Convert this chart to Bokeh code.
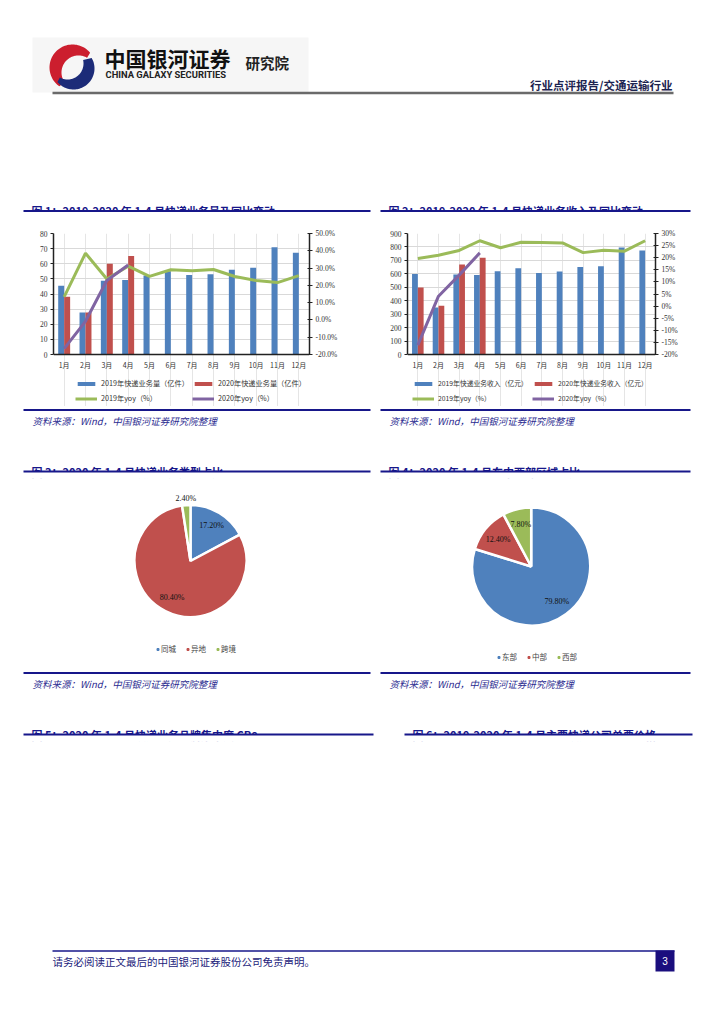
import numpy as np
from bokeh.plotting import figure
from bokeh.models import (Range1d, FactorRange, LinearAxis, FixedTicker, PrintfTickFormatter,
                          Legend, LegendItem, ColumnDataSource, Span)
from bokeh.transform import dodge
from bokeh.layouts import column, row
from bokeh.embed import file_html
from bokeh.resources import INLINE
from bokeh.core.properties import value

# ---------------- data ----------------
months = ["1月", "2月", "3月", "4月", "5月", "6月", "7月", "8月", "9月", "10月", "11月", "12月"]

vol_2019 = [45.5, 27.7, 48.7, 49.3, 52.2, 55.0, 52.6, 53.0, 56.0, 57.4, 70.9, 67.2]
vol_2020 = [38.2, 27.7, 60.0, 65.2]
vol_yoy_2019 = [13.3, 38.6, 23.7, 31.1, 25.2, 29.0, 28.5, 29.2, 25.1, 22.8, 21.6, 25.6]
vol_yoy_2020 = [-16.6, -0.8, 22.8, 31.8]
vol_labels = ["2019年快递业务量（亿件）", "2020年快递业务量（亿件）", "2019年yoy（%）", "2020年yoy（%）"]

rev_2019 = [598, 350, 595, 591, 620, 642, 607, 617, 650, 657, 796, 774]
rev_2020 = [498, 362, 669, 719]
rev_yoy_2019 = [19.7, 21.0, 23.0, 27.0, 24.1, 26.4, 26.3, 26.1, 22.1, 23.1, 22.7, 27.0]
rev_yoy_2020 = [-16.1, 4.1, 12.8, 22.0]
rev_labels = ["2019年快递业务收入（亿元）", "2020年快递业务收入（亿元）", "2019年yoy（%）", "2020年yoy（%）"]

type_labels = ["同城", "异地", "跨境"]
type_share = [17.2, 80.4, 2.4]
region_labels = ["东部", "中部", "西部"]
region_share = [79.8, 12.4, 7.8]

# ---------------- style ----------------
BLUE, RED, GREEN, PURPLE = "#4F81BD", "#C0504D", "#9BBB59", "#8064A2"
NAVY = "#17178A"
CJK = "Noto Sans CJK SC"
SERIF = "Liberation Serif"

PLOT_PX = 121      # height of the value area in px
BELOW_PX = 52      # room under the zero line (month labels + legend)


def item_legend(p, label, renderer, x, y, size):
    leg = Legend(items=[LegendItem(label=label, renderers=[renderer])],
                 orientation="horizontal", location=(x, y),
                 glyph_width=22, glyph_height=5, label_height=11, label_standoff=4,
                 spacing=0, padding=0, margin=0,
                 label_text_font=CJK, label_text_font_size=size, label_text_color="#333333",
                 border_line_color=None, background_fill_alpha=0)
    p.add_layout(leg)


def combo_chart(width, left_border, right_border, bars19, bars20, yoy19, yoy20,
                y_max, y_step, pct_min, pct_max, pct_step, pct_fmt, labels, leg_x, leg_size):
    below = BELOW_PX / PLOT_PX
    p = figure(width=width, height=182, x_range=FactorRange(*months),
               y_range=Range1d(-y_max * below, y_max), x_axis_location=None,
               output_backend="svg", toolbar_location=None,
               min_border_left=left_border, min_border_right=right_border,
               min_border_top=9, min_border_bottom=0)
    p.outline_line_color = None
    yt = FixedTicker(ticks=list(range(0, y_max + 1, y_step)))
    p.yaxis.ticker = yt
    p.ygrid.ticker = yt
    p.ygrid.grid_line_color = "#d9d9d9"
    p.ygrid.grid_line_width = 1

    s19 = ColumnDataSource(dict(m=months, v=bars19))
    s20 = ColumnDataSource(dict(m=months[:len(bars20)], v=bars20))
    r19 = p.vbar(x=dodge("m", -0.14, range=p.x_range), top="v", width=0.28, source=s19,
                 fill_color=BLUE, line_color=None)
    r20 = p.vbar(x=dodge("m", 0.14, range=p.x_range), top="v", width=0.28, source=s20,
                 fill_color=RED, line_color=None)
    span = pct_max - pct_min
    p.extra_y_ranges = {"pct": Range1d(pct_min - span * below, pct_max)}
    l19 = p.line(months, yoy19, y_range_name="pct", line_color=GREEN, line_width=3)
    l20 = p.line(months[:len(yoy20)], yoy20, y_range_name="pct", line_color=PURPLE, line_width=3)

    # category axis line and month labels
    p.add_layout(Span(location=0, dimension="width", line_color="#222222", line_width=1.5))
    p.text(x=months, y=[-y_max * 10 / PLOT_PX] * len(months), text=months,
           text_align="center", text_baseline="middle", text_font=value(CJK),
           text_font_size=value("7px"), text_color="#333333")

    right = LinearAxis(y_range_name="pct",
                       ticker=FixedTicker(ticks=list(range(pct_min, pct_max + 1, pct_step))),
                       formatter=PrintfTickFormatter(format=pct_fmt))
    p.add_layout(right, "right")
    for ax in p.yaxis:
        ax.axis_line_color = "#222222"
        ax.axis_line_width = 1.5
        ax.major_tick_line_color = "#222222"
        ax.major_tick_out = 3
        ax.major_tick_in = 0
        ax.minor_tick_line_color = None
        ax.major_label_text_font = SERIF
        ax.major_label_text_font_size = "7.5px"
        ax.major_label_text_color = "#333333"
        ax.major_label_standoff = 3
    p.yaxis[0].bounds = (0, y_max)
    right.bounds = (pct_min, pct_max)
    right.major_tick_in = 2

    # legend rows under the month labels (offsets from frame bottom-left, px)
    item_legend(p, labels[0], r19, leg_x[0], 17.5, leg_size)
    item_legend(p, labels[1], r20, leg_x[1], 17.5, leg_size)
    item_legend(p, labels[2], l19, leg_x[0], 2.5, leg_size)
    item_legend(p, labels[3], l20, leg_x[1], 2.5, leg_size)
    return p


def pie_chart(width, xr, yr, radius, labels, shares, legend_xy):
    p = figure(width=width, height=182, x_range=Range1d(*xr), y_range=Range1d(*yr),
               x_axis_type=None, y_axis_type=None, output_backend="svg",
               toolbar_location=None, min_border=0)
    p.outline_line_color = None
    colors = [BLUE, RED, GREEN]
    fr = np.array(shares) / np.sum(shares)
    cum = np.cumsum(fr)
    start = np.pi / 2 - (cum - fr) * 2 * np.pi
    end = np.pi / 2 - cum * 2 * np.pi
    src = ColumnDataSource(dict(start=start, end=end, color=colors))
    p.wedge(x=0, y=0, radius=radius, start_angle="start", end_angle="end", direction="clock",
            fill_color="color", line_color="white", line_width=2.5, source=src)
    mid = (start + end) / 2
    rr = np.where(fr < 0.05, radius * 1.12, radius * 0.73)
    p.text(x=rr * np.cos(mid), y=rr * np.sin(mid), text=[f"{s:.2f}%" for s in shares],
           text_align="center", text_baseline="middle", text_font=value(SERIF),
           text_font_size=value("8px"), text_color="#111111")
    lsrc = ColumnDataSource(dict(x=[np.nan] * 3, y=[np.nan] * 3, color=colors))
    lr = p.scatter(x="x", y="y", marker="square", size=3, color="color", source=lsrc)
    leg = Legend(items=[LegendItem(label=l, renderers=[lr], index=i) for i, l in enumerate(labels)],
                 orientation="horizontal", location=legend_xy,
                 glyph_width=5, glyph_height=6, label_height=10, label_standoff=1,
                 spacing=4, padding=0, margin=0,
                 label_text_font=CJK, label_text_font_size="7.5px", label_text_color="#444444",
                 border_line_color=None, background_fill_alpha=0)
    p.add_layout(leg)
    return p


def band(height, top):
    p = figure(width=716, height=height, x_range=Range1d(0, 716), y_range=Range1d(top + height, top),
               x_axis_type=None, y_axis_type=None, output_backend="svg",
               toolbar_location=None, min_border=0)
    p.outline_line_color = None
    return p


def txt(p, x, y, s, size, color="#000000", font=CJK, style="normal", align="left"):
    p.text(x=[x], y=[y], text=[s], text_font=value(font), text_font_size=value(size),
           text_color=color, text_font_style=style, text_align=align, text_baseline="middle")


def cut_title(p, x0, x1, y, s):
    txt(p, x0 + 8, y, s, "11px", NAVY, style="bold")
    p.quad(left=[x0 - 2], right=[x1 + 2], top=[y + 0.5], bottom=[y + 7], fill_color="white", line_color=None)
    p.segment(x0=[x0], x1=[x1], y0=[y], y1=[y], line_color=NAVY, line_width=2)


def source_line(p, x0, x1, y):
    p.segment(x0=[x0], x1=[x1], y0=[y], y1=[y], line_color=NAVY, line_width=2)
    txt(p, x0 + 9, y + 11, "资料来源：Wind，中国银河证券研究院整理", "9.5px", "#2B2B90", style="italic")


def crescent(p, c_out, r_out, c_in, r_in, a0, a1, color):
    a = np.radians(np.linspace(a0, a1, 60))
    xo = c_out[0] + r_out * np.cos(a)
    yo = c_out[1] - r_out * np.sin(a)
    ang_o0 = np.arctan2(-(yo[0] - c_in[1]), xo[0] - c_in[0])
    ang_o1 = np.arctan2(-(yo[-1] - c_in[1]), xo[-1] - c_in[0])
    if ang_o0 < ang_o1 and a1 < a0:
        ang_o0 += 2 * np.pi
    if ang_o1 < ang_o0 and a1 > a0:
        ang_o1 += 2 * np.pi
    b = np.linspace(ang_o1, ang_o0, 60)
    xi = c_in[0] + r_in * np.cos(b)
    yi = c_in[1] - r_in * np.sin(b)
    p.patch(np.concatenate([xo, xi]), np.concatenate([yo, yi]), fill_color=color, line_color=None)


# ---------------- band A: header ----------------
A = band(224, 0)
A.quad(left=[32], right=[308], top=[37], bottom=[92], fill_color="#f6f6f6", line_color=None)
crescent(A, (72, 67), 23, (78, 72), 17, 40, 235, "#CC1E2E")
crescent(A, (73, 68), 21, (67, 63), 16, -140, 30, "#1C2B78")
txt(A, 104, 57, "中国银河证券", "21px", "#111111", style="bold")
txt(A, 105, 74, "CHINA GALAXY SECURITIES", "9.4px", "#222222", font="Roboto", style="bold")
txt(A, 245, 62, "研究院", "14.5px", "#222222", style="bold")
txt(A, 672, 84, "行业点评报告/交通运输行业", "11.5px", "#1c2450", style="bold", align="right")
A.segment(x0=[52], x1=[673], y0=[92.5], y1=[92.5], line_color="#6a6a6a", line_width=2.5)
cut_title(A, 23, 370, 210.5, "图 1：2019-2020 年 1-4 月快递业务量及同比变动")
cut_title(A, 380, 690, 210.5, "图 2：2019-2020 年 1-4 月快递业务收入及同比变动")

# ---------------- charts ----------------
c1 = combo_chart(380, 53, 71, vol_2019, vol_2020, vol_yoy_2019, vol_yoy_2020,
                 80, 10, -20, 50, 10, "%.1f%%", vol_labels, (22, 139), "7.2px")
c2 = combo_chart(336, 27, 61, rev_2019, rev_2020, rev_yoy_2019, rev_yoy_2020,
                 900, 100, -20, 30, 5, "%d%%", rev_labels, (5, 125), "6.8px")

# ---------------- band C ----------------
C = band(80, 406)
source_line(C, 23, 370, 409.5)
source_line(C, 380, 690, 409.5)
cut_title(C, 23, 370, 471, "图 3：2020 年 1-4 月快递业务类型占比")
cut_title(C, 380, 690, 471, "图 4：2020 年 1-4 月东中西部区域占比")

# ---------------- pies ----------------
p1 = pie_chart(380, (-190, 190), (-107.5, 74.5), 56, type_labels, type_share, (155, 14))
p2 = pie_chart(336, (-150.7, 185.3), (-102, 80), 59, region_labels, region_share, (116, 6))

# ---------------- band E ----------------
E = band(348, 668)
source_line(E, 23, 370, 672.5)
source_line(E, 380, 690, 672.5)
cut_title(E, 23, 373, 734, "图 5：2020 年 1-4 月快递业务品牌集中度 CR8")
cut_title(E, 404, 692, 734, "图 6：2019-2020 年 1-4 月主要快递公司单票价格")
E.segment(x0=[52], x1=[674], y0=[950.5], y1=[950.5], line_color=NAVY, line_width=1.5)
txt(E, 52, 961, "请务必阅读正文最后的中国银河证券股份公司免责声明。", "10.5px", "#22227a")
E.quad(left=[655], right=[674], top=[950], bottom=[971], fill_color="#1A0E7E", line_color=None)
txt(E, 664.5, 960.5, "3", "10px", "white", font="Liberation Sans", align="center")

layout = column(A, row(c1, c2), C, row(p1, p2), E, spacing=0)
open("out.html", "w").write(file_html(layout, INLINE))
